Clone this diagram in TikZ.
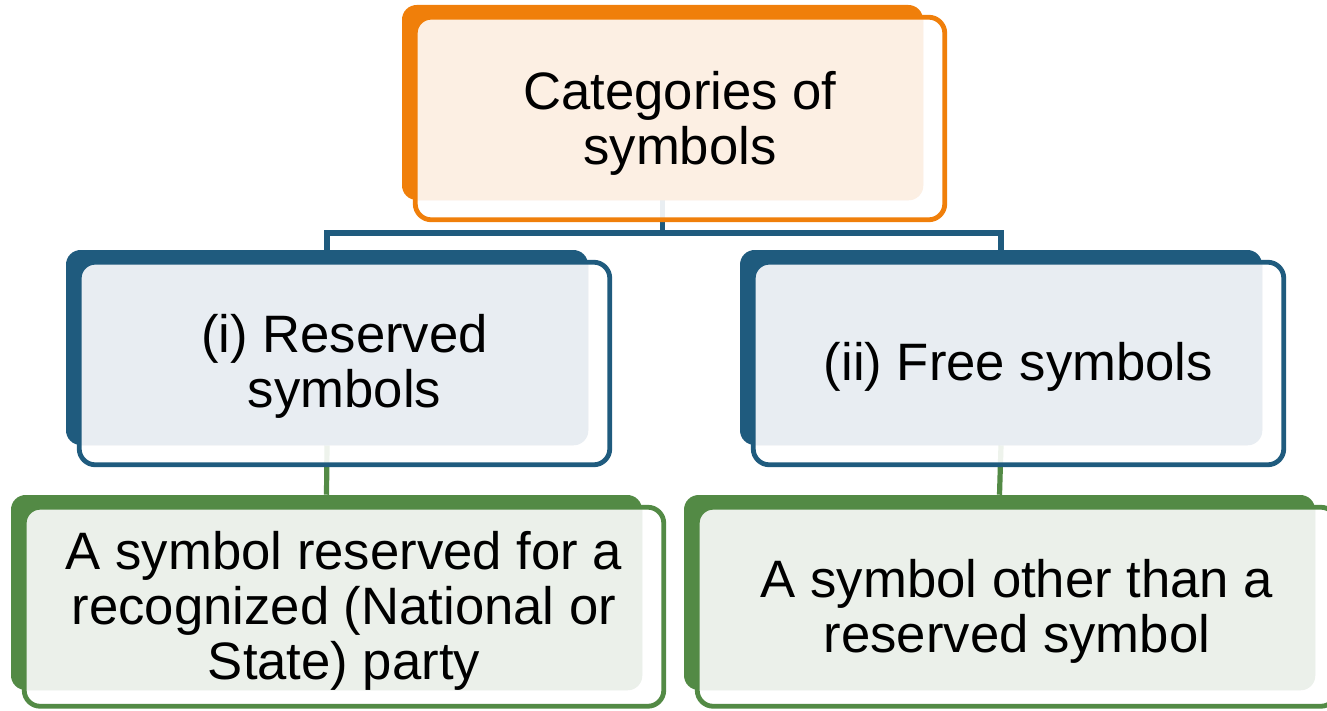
\documentclass[tikz,border=0pt]{standalone}
\usepackage{fontspec}
\setmainfont{Liberation Sans}
\definecolor{cOr}{RGB}{240,127,10}
\definecolor{cOrL}{RGB}{252,239,227}
\definecolor{cBl}{RGB}{31,91,126}
\definecolor{cBlL}{RGB}{232,237,242}
\definecolor{cGr}{RGB}{83,138,69}
\definecolor{cGrL}{RGB}{235,240,234}
\newcommand{\frontpart}[4]{% #1 back name, #2 front name, #3 light colour, #4 line colour
  \begin{scope}
    \clip[rounded corners=11pt] (#1.south west) rectangle (#1.north east);
    \fill[#3, rounded corners=12pt] (#2.south west) rectangle (#2.north east);
  \end{scope}
  \draw[frontline, #4] (#2.south west) rectangle (#2.north east);
}
\begin{document}
\begin{tikzpicture}[x=0.75pt,y=-0.75pt,
  backbox/.style={rectangle, rounded corners=11pt, inner sep=0pt, draw=none, minimum height=146.25pt},
  frontfill/.style={rectangle, rounded corners=12pt, inner sep=0pt, fill=white, fill opacity=0.9, draw=none},
  frontline/.style={line width=3.6pt, rounded corners=12pt},
  conn/.style={line width=3.9pt},
  lbl/.style={font=\fontsize{39.5}{41.25}\selectfont, align=center, inner sep=0pt, text=black}
]
\useasboundingbox (0,0) rectangle (1327,710);
% back shapes
\node[backbox, fill=cOr, minimum width=390.75pt] (topB) at (662.5,102.5) {};
\node[backbox, fill=cBl, minimum width=391.5pt] (midLB) at (327,347.5) {};
\node[backbox, fill=cBl, minimum width=391.5pt] (midRB) at (1001,347.5) {};
\node[backbox, fill=cGr, minimum width=473.25pt] (botLB) at (326.5,592.5) {};
\node[backbox, fill=cGr, minimum width=473.25pt] (botRB) at (999.5,592.5) {};
% connectors
\coordinate (hy) at (0,233);
\draw[conn, cBl] (topB.south) -- (topB.south |- hy) coordinate (jn) -| (midLB.north);
\draw[conn, cBl] (jn) -| (midRB.north);
\draw[conn, cGr] (midLB.south) -- (botLB.north);
\draw[conn, cGr] (midRB.south) -- (botRB.north);
% front shapes
\node[frontfill, minimum width=396.75pt, minimum height=151.5pt] (topF) at (680,118.5) {};
\node[frontfill, minimum width=397.5pt, minimum height=151.5pt] (midLF) at (344.5,363.5) {};
\node[frontfill, minimum width=397.5pt, minimum height=151.5pt] (midRF) at (1018.5,363.5) {};
\node[frontfill, minimum width=479.25pt, minimum height=148.875pt] (botLF) at (344,606.75) {};
\node[frontfill, minimum width=479.25pt, minimum height=148.875pt] (botRF) at (1017,606.75) {};
\frontpart{topB}{topF}{cOrL}{cOr}
\frontpart{midLB}{midLF}{cBlL}{cBl}
\frontpart{midRB}{midRF}{cBlL}{cBl}
\frontpart{botLB}{botLF}{cGrL}{cGr}
\frontpart{botRB}{botRF}{cGrL}{cGr}
% texts
\node[lbl] (topT) at (680,123.7) {Categories of\\symbols};
\node[lbl] (midLT) at (344.5,366) {(i) Reserved\\symbols};
\node[lbl] (midRT) at (1018.5,367) {(ii) Free symbols};
\node[lbl] (botLT) at (344,611) {A symbol reserved for a\\recognized (National or\\State) party};
\node[lbl] (botRT) at (1017,611) {A symbol other than a\\reserved symbol};
\end{tikzpicture}
\end{document}
